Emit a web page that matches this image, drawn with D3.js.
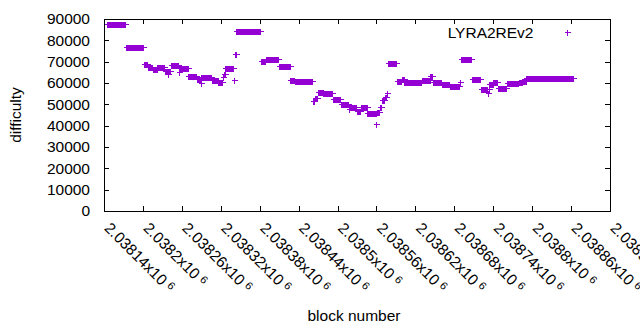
<!DOCTYPE html>
<html>
<head>
<meta charset="utf-8">
<script src="https://cdn.jsdelivr.net/npm/d3@7"></script>
<style>
  body { margin: 0; background: #fff; }
  text { font-family: "Liberation Sans", Arial, sans-serif; fill: #000; }
</style>
</head>
<body>
<svg id="chart" width="640" height="330"></svg>
<script>
// difficulty stays flat between retargets, so the data is kept as runs of blocks
let runStart = [2038145, 2038174, 2038201, 2038208, 2038215, 2038222, 2038234, 2038238, 2038239, 2038243,
                2038255, 2038256, 2038270, 2038283, 2038289, 2038290, 2038306, 2038316, 2038323, 2038325,
                2038327, 2038340, 2038342, 2038344, 2038382, 2038389, 2038409, 2038427, 2038434, 2038462,
                2038465, 2038470, 2038478, 2038493, 2038505, 2038517, 2038518, 2038530, 2038536, 2038546,
                2038560, 2038561, 2038565, 2038568, 2038573, 2038576, 2038578, 2038591, 2038599, 2038603,
                2038630, 2038643, 2038647, 2038661, 2038673, 2038689, 2038690, 2038707, 2038721, 2038732,
                2038733, 2038734, 2038740, 2038747, 2038761, 2038779, 2038785, 2038791];
let runEnd   = [2038173, 2038200, 2038207, 2038214, 2038221, 2038233, 2038237, 2038238, 2038242, 2038254,
                2038255, 2038269, 2038282, 2038288, 2038289, 2038305, 2038315, 2038322, 2038324, 2038326,
                2038339, 2038341, 2038343, 2038381, 2038388, 2038408, 2038426, 2038433, 2038461, 2038464,
                2038469, 2038477, 2038492, 2038504, 2038516, 2038517, 2038529, 2038535, 2038545, 2038559,
                2038560, 2038564, 2038567, 2038572, 2038575, 2038577, 2038590, 2038598, 2038602, 2038629,
                2038642, 2038646, 2038660, 2038672, 2038688, 2038689, 2038706, 2038720, 2038731, 2038732,
                2038733, 2038739, 2038746, 2038760, 2038778, 2038784, 2038790, 2038863];
let runDiff  = [87600, 76700, 68800, 67600, 66700, 67400, 65400, 64000, 65400, 68400,
                65000, 66900, 63100, 62000, 59900, 62700, 61200, 60300, 62900, 64100,
                66900, 61300, 73400, 84200, 70500, 71100, 67900, 61300, 60800, 51500,
                53000, 55600, 55200, 52400, 50000, 47800, 48900, 47000, 48900, 45800,
                40900, 46300, 48900, 52000, 53600, 55400, 69200, 60800, 61800, 60300,
                61400, 63400, 60250, 59600, 58700, 60600, 71250, 62000, 57050, 55500,
                57050, 59300, 60700, 57650, 59850, 60250, 61000, 62250];

let xTicks = [2038140, 2038200, 2038260, 2038320, 2038380, 2038440, 2038500,
              2038560, 2038620, 2038680, 2038740, 2038800, 2038860, 2038920];
let yTicks = [0, 10000, 20000, 30000, 40000, 50000, 60000, 70000, 80000, 90000];

let seriesName = "LYRA2REv2";
let color = "#9400d3";

// one point per block
let points = [];
runStart.forEach(function(s, i) {
    for (let b = s; b <= runEnd[i]; b++) {
        points.push({block: b, diff: runDiff[i]});
    }
});

let svg = d3.select("#chart");
let pLeft = 104, pRight = 610, pTop = 19, pBottom = 211;

let x = d3.scaleLinear().domain([2038140, 2038920]).range([pLeft, pRight]);
let y = d3.scaleLinear().domain([0, 90000]).range([pBottom, pTop]);

svg.append("rect").attr("width", 640).attr("height", 330).attr("fill", "#fff");

// tick marks, all pointing inward, mirrored on top and right
let tickLen = 5;
let yAxis = d3.axisLeft(y).tickValues(yTicks).tickSizeInner(-tickLen).tickSizeOuter(0)
    .tickPadding(14).tickFormat(d3.format("d"));
let gy = svg.append("g").attr("transform", "translate(" + pLeft + ",0)").call(yAxis);
gy.select(".domain").remove();
gy.selectAll("text").style("font-size", "15.5px");
gy.attr("font-family", null).attr("font-size", null);

let gyr = svg.append("g").attr("transform", "translate(" + pRight + ",0)")
    .call(d3.axisRight(y).tickValues(yTicks.slice(1, -1)).tickSizeInner(-tickLen).tickSizeOuter(0).tickFormat(""));
gyr.select(".domain").remove();

let gx = svg.append("g").attr("transform", "translate(0," + pBottom + ")")
    .call(d3.axisBottom(x).tickValues(xTicks.slice(1, -1)).tickSizeInner(-tickLen).tickSizeOuter(0).tickFormat(""));
gx.select(".domain").remove();

let gxt = svg.append("g").attr("transform", "translate(0," + pTop + ")")
    .call(d3.axisTop(x).tickValues(xTicks.slice(1, -1)).tickSizeInner(-tickLen).tickSizeOuter(0).tickFormat(""));
gxt.select(".domain").remove();

svg.selectAll(".tick line").attr("stroke", "#000").attr("shape-rendering", "crispEdges");

// frame
svg.append("rect")
    .attr("x", pLeft + 0.5).attr("y", pTop + 0.5)
    .attr("width", pRight - pLeft).attr("height", pBottom - pTop)
    .attr("fill", "none").attr("stroke", "#000")
    .attr("shape-rendering", "crispEdges");

// rotated x tick labels like "2.03814x10^6"
let xl = svg.append("g").selectAll("text").data(xTicks).enter().append("text")
    .attr("transform", function(d) { return "translate(" + (x(d) - 0.5) + ",229) rotate(45)"; })
    .style("font-size", "15.5px");
xl.append("tspan").text(function(d) { return String(+(d / 1e6).toFixed(5)) + "x10"; });
xl.append("tspan").attr("dx", 4).attr("dy", -4).style("font-size", "11px").text("6");

// axis titles
svg.append("text")
    .attr("x", 354).attr("y", 320.5)
    .attr("text-anchor", "middle")
    .style("font-size", "15.5px")
    .text("block number");

svg.append("text")
    .attr("transform", "translate(21," + ((pTop + pBottom) / 2) + ") rotate(-90)")
    .attr("text-anchor", "middle")
    .style("font-size", "15.5px")
    .text("difficulty");

// points drawn as '+' marks
function plus(cx, cy, r) {
    return "M" + (cx - r) + "," + cy + "H" + (cx + r) + "M" + cx + "," + (cy - r) + "V" + (cy + r);
}

svg.append("g").selectAll("path").data(points).enter().append("path")
    .attr("d", function(d) { return plus(Math.round(x(d.block)) + 0.5, Math.round(y(d.diff)) + 0.5, 3); })
    .attr("stroke", color).attr("stroke-width", 1).attr("fill", "none")
    .attr("shape-rendering", "crispEdges");

// legend
svg.append("text")
    .attr("x", 533.5).attr("y", 37.5)
    .attr("text-anchor", "end")
    .style("font-size", "15.5px")
    .text(seriesName);
svg.append("path")
    .attr("d", plus(567.5, 32.5, 3))
    .attr("stroke", color).attr("fill", "none")
    .attr("shape-rendering", "crispEdges");
</script>
</body>
</html>
